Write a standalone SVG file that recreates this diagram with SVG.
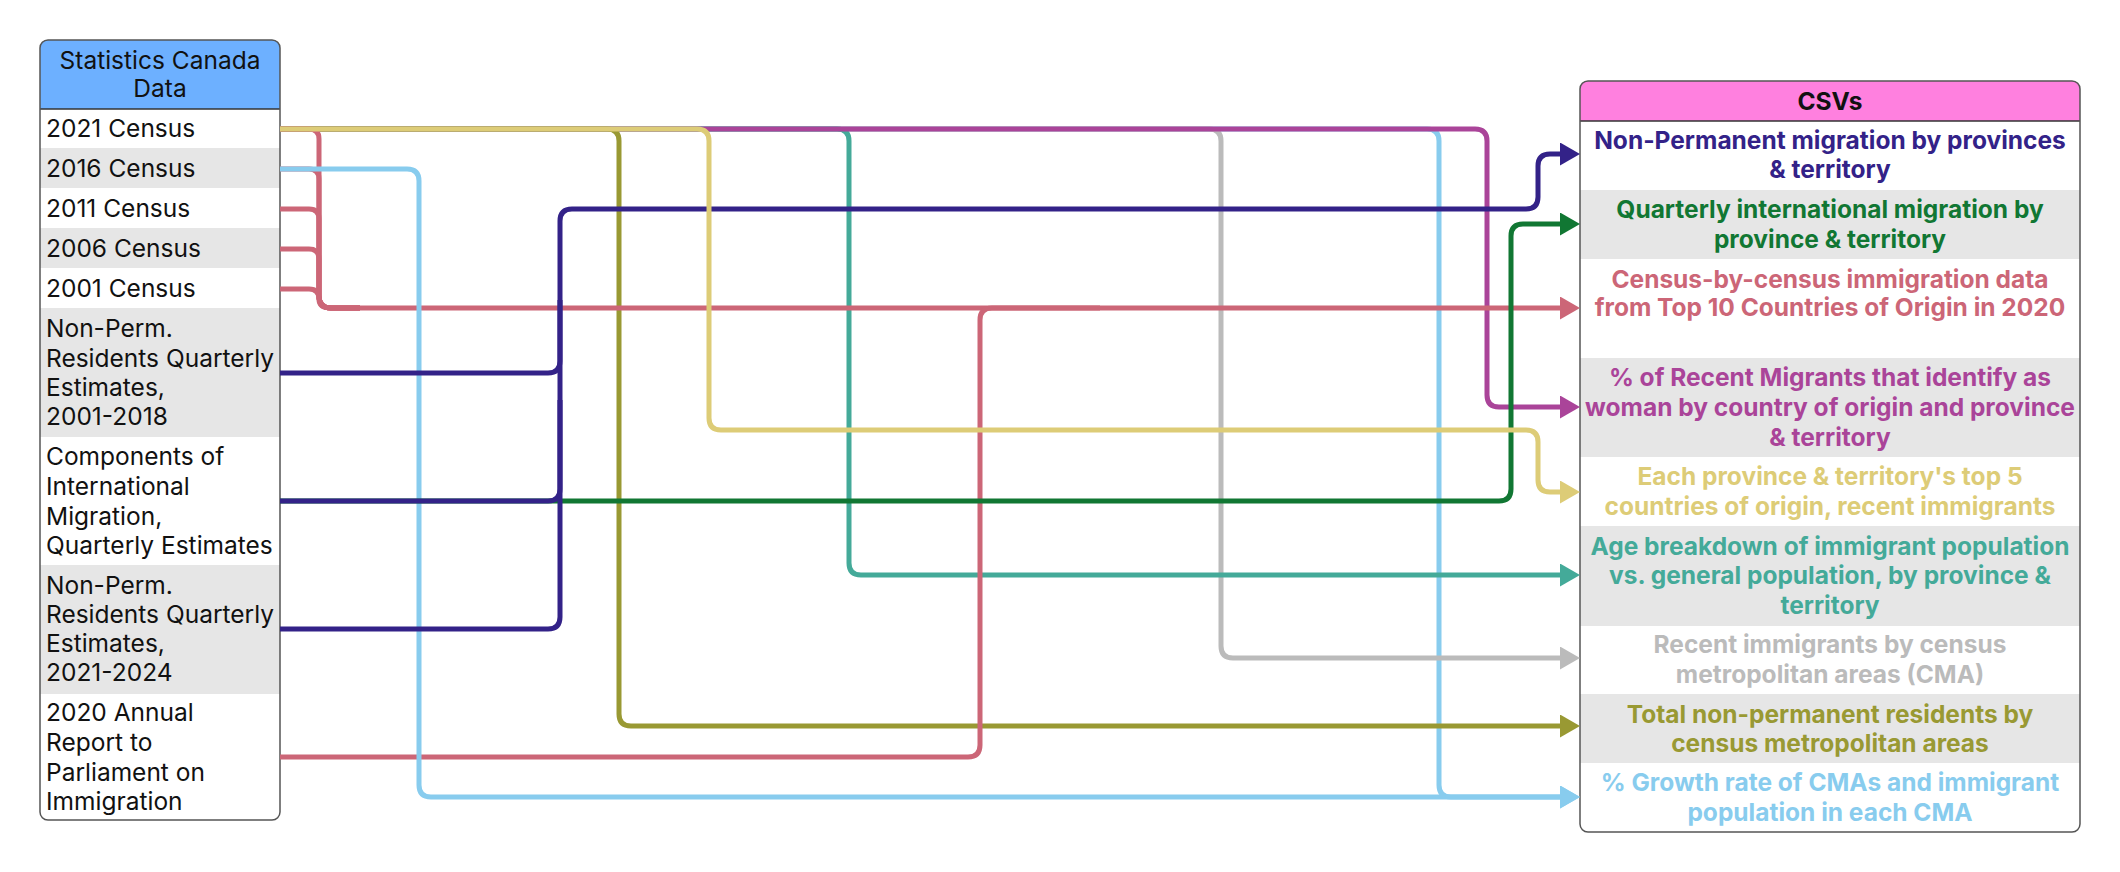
<svg xmlns="http://www.w3.org/2000/svg" width="2120" height="872" viewBox="0 0 2120 872">
<style>
  text { font-family: "Inter", "Liberation Sans", sans-serif; font-size: 24.5px; }
  .src { fill: #111111; }
  .hdr { fill: #111111; text-anchor: middle; }
  .out { font-weight: 700; text-anchor: middle; }
  .box { fill: none; stroke: #555555; stroke-width: 1.5; }
  .alt { fill: #E6E6E6; }
  .wht { fill: #FFFFFF; }
  .ln { fill: none; stroke-width: 5; stroke-linejoin: round; }
</style>
<defs>
  <marker id="a-navy" viewBox="0 0 20 23" refX="10" refY="11.5" markerWidth="20" markerHeight="23" markerUnits="userSpaceOnUse" orient="auto"><path d="M0,0 L20,11.5 L0,23 z" fill="#332288"/></marker>
  <marker id="a-green" viewBox="0 0 20 23" refX="10" refY="11.5" markerWidth="20" markerHeight="23" markerUnits="userSpaceOnUse" orient="auto"><path d="M0,0 L20,11.5 L0,23 z" fill="#117733"/></marker>
  <marker id="a-rose" viewBox="0 0 20 23" refX="10" refY="11.5" markerWidth="20" markerHeight="23" markerUnits="userSpaceOnUse" orient="auto"><path d="M0,0 L20,11.5 L0,23 z" fill="#CC6677"/></marker>
  <marker id="a-purple" viewBox="0 0 20 23" refX="10" refY="11.5" markerWidth="20" markerHeight="23" markerUnits="userSpaceOnUse" orient="auto"><path d="M0,0 L20,11.5 L0,23 z" fill="#AA4499"/></marker>
  <marker id="a-sand" viewBox="0 0 20 23" refX="10" refY="11.5" markerWidth="20" markerHeight="23" markerUnits="userSpaceOnUse" orient="auto"><path d="M0,0 L20,11.5 L0,23 z" fill="#DDCC77"/></marker>
  <marker id="a-teal" viewBox="0 0 20 23" refX="10" refY="11.5" markerWidth="20" markerHeight="23" markerUnits="userSpaceOnUse" orient="auto"><path d="M0,0 L20,11.5 L0,23 z" fill="#44AA99"/></marker>
  <marker id="a-grey" viewBox="0 0 20 23" refX="10" refY="11.5" markerWidth="20" markerHeight="23" markerUnits="userSpaceOnUse" orient="auto"><path d="M0,0 L20,11.5 L0,23 z" fill="#BBBBBB"/></marker>
  <marker id="a-olive" viewBox="0 0 20 23" refX="10" refY="11.5" markerWidth="20" markerHeight="23" markerUnits="userSpaceOnUse" orient="auto"><path d="M0,0 L20,11.5 L0,23 z" fill="#999933"/></marker>
  <marker id="a-cyan" viewBox="0 0 20 23" refX="10" refY="11.5" markerWidth="20" markerHeight="23" markerUnits="userSpaceOnUse" orient="auto"><path d="M0,0 L20,11.5 L0,23 z" fill="#88CCEE"/></marker>
</defs>
<rect width="2120" height="872" fill="#FFFFFF"/>

<g id="source-table">
  <path d="M48,40 H272 Q280,40 280,48 V109 H40 V48 Q40,40 48,40 z" fill="#6DB0FF"/>
  <text class="hdr" x="160" y="69">Statistics Canada</text>
  <text class="hdr" x="160" y="97">Data</text>
  <g id="src-2021"><rect class="wht" x="40" y="109" width="240" height="39"/><text class="src" x="46" y="137">2021 Census</text></g>
  <g id="src-2016"><rect class="alt" x="40" y="148" width="240" height="40"/><text class="src" x="46" y="177">2016 Census</text></g>
  <g id="src-2011"><rect class="wht" x="40" y="188" width="240" height="40"/><text class="src" x="46" y="217">2011 Census</text></g>
  <g id="src-2006"><rect class="alt" x="40" y="228" width="240" height="40"/><text class="src" x="46" y="257">2006 Census</text></g>
  <g id="src-2001"><rect class="wht" x="40" y="268" width="240" height="40"/><text class="src" x="46" y="297">2001 Census</text></g>
  <g id="src-npr-2001"><rect class="alt" x="40" y="308" width="240" height="129"/>
    <text class="src" x="46" y="337">Non-Perm.</text><text class="src" x="46" y="367">Residents Quarterly</text><text class="src" x="46" y="396">Estimates,</text><text class="src" x="46" y="425">2001-2018</text></g>
  <g id="src-components"><rect class="wht" x="40" y="437" width="240" height="128"/>
    <text class="src" x="46" y="465">Components of</text><text class="src" x="46" y="495">International</text><text class="src" x="46" y="525">Migration,</text><text class="src" x="46" y="554">Quarterly Estimates</text></g>
  <g id="src-npr-2021"><rect class="alt" x="40" y="565" width="240" height="129"/>
    <text class="src" x="46" y="594">Non-Perm.</text><text class="src" x="46" y="623">Residents Quarterly</text><text class="src" x="46" y="652">Estimates,</text><text class="src" x="46" y="681">2021-2024</text></g>
  <g id="src-annual"><path d="M40,694 H280 V812 Q280,820 272,820 H48 Q40,820 40,812 z" fill="#FFFFFF"/>
    <text class="src" x="46" y="721">2020 Annual</text><text class="src" x="46" y="751">Report to</text><text class="src" x="46" y="781">Parliament on</text><text class="src" x="46" y="810">Immigration</text></g>
  <line x1="40" y1="109" x2="280" y2="109" stroke="#333333" stroke-width="1.5"/>
  <rect class="box" x="40" y="40" width="240" height="780" rx="8"/>
</g>

<g id="csv-table">
  <path d="M1588,81 H2072 Q2080,81 2080,89 V121 H1580 V89 Q1580,81 1588,81 z" fill="#FF80DF"/>
  <text x="1830" y="110" text-anchor="middle" font-weight="700" fill="#111111">CSVs</text>
  <g id="csv-npm"><rect class="wht" x="1580" y="121" width="500" height="69"/>
    <text class="out" fill="#332288" x="1830" y="149">Non-Permanent migration by provinces</text><text class="out" fill="#332288" x="1830" y="178">&amp; territory</text></g>
  <g id="csv-quarterly"><rect class="alt" x="1580" y="190" width="500" height="69"/>
    <text class="out" fill="#117733" x="1830" y="218">Quarterly international migration by</text><text class="out" fill="#117733" x="1830" y="248">province &amp; territory</text></g>
  <g id="csv-census"><rect class="wht" x="1580" y="259" width="500" height="99"/>
    <text class="out" fill="#CC6677" x="1830" y="288">Census-by-census immigration data</text><text class="out" fill="#CC6677" x="1830" y="316">from Top 10 Countries of Origin in 2020</text></g>
  <g id="csv-women"><rect class="alt" x="1580" y="358" width="500" height="99"/>
    <text class="out" fill="#AA4499" x="1830" y="386">% of Recent Migrants that identify as</text><text class="out" fill="#AA4499" x="1830" y="416">woman by country of origin and province</text><text class="out" fill="#AA4499" x="1830" y="446">&amp; territory</text></g>
  <g id="csv-top5"><rect class="wht" x="1580" y="457" width="500" height="69"/>
    <text class="out" fill="#DDCC77" x="1830" y="485">Each province &amp; territory's top 5</text><text class="out" fill="#DDCC77" x="1830" y="515">countries of origin, recent immigrants</text></g>
  <g id="csv-age"><rect class="alt" x="1580" y="526" width="500" height="100"/>
    <text class="out" fill="#44AA99" x="1830" y="555">Age breakdown of immigrant population</text><text class="out" fill="#44AA99" x="1830" y="584">vs. general population, by province &amp;</text><text class="out" fill="#44AA99" x="1830" y="614">territory</text></g>
  <g id="csv-recent"><rect class="wht" x="1580" y="626" width="500" height="68"/>
    <text class="out" fill="#BBBBBB" x="1830" y="653">Recent immigrants by census</text><text class="out" fill="#BBBBBB" x="1830" y="683">metropolitan areas (CMA)</text></g>
  <g id="csv-npr-cma"><rect class="alt" x="1580" y="694" width="500" height="69"/>
    <text class="out" fill="#999933" x="1830" y="723">Total non-permanent residents by</text><text class="out" fill="#999933" x="1830" y="752">census metropolitan areas</text></g>
  <g id="csv-growth"><path d="M1580,763 H2080 V824 Q2080,832 2072,832 H1588 Q1580,832 1580,824 z" fill="#FFFFFF"/>
    <text class="out" fill="#88CCEE" x="1830" y="791">% Growth rate of CMAs and immigrant</text><text class="out" fill="#88CCEE" x="1830" y="821">population in each CMA</text></g>
  <line x1="1580" y1="121" x2="2080" y2="121" stroke="#333333" stroke-width="1.5"/>
  <rect class="box" x="1580" y="81" width="500" height="751" rx="8"/>
</g>

<g id="connectors">
  <path class="ln" stroke="#88CCEE" marker-end="url(#a-cyan)" d="M280,129 H1427 Q1439,129 1439,141 V785 Q1439,797 1451,797 H1570"/>
  <path class="ln" stroke="#BBBBBB" marker-end="url(#a-grey)" d="M280,129 H1209 Q1221,129 1221,141 V646 Q1221,658 1233,658 H1570"/>
  <path class="ln" stroke="#44AA99" marker-end="url(#a-teal)" d="M280,129 H837 Q849,129 849,141 V563 Q849,575 861,575 H1570"/>
  <path class="ln" stroke="#AA4499" marker-end="url(#a-purple)" d="M280,129 H1475 Q1487,129 1487,141 V395 Q1487,407 1499,407 H1570"/>
  <path class="ln" stroke="#999933" marker-end="url(#a-olive)" d="M280,129 H607 Q619,129 619,141 V714 Q619,726 631,726 H1570"/>
  <path class="ln" stroke="#CC6677" marker-end="url(#a-rose)" d="M280,129 H309 Q319,129 319,139 V296 Q319,308 331,308 H1570"/>
  <path class="ln" stroke="#CC6677" d="M280,169 H309 Q319,169 319,179 V296 Q319,308 331,308 H360"/>
  <path class="ln" stroke="#CC6677" d="M280,209 H309 Q319,209 319,219 V296 Q319,308 331,308 H360"/>
  <path class="ln" stroke="#CC6677" d="M280,249 H309 Q319,249 319,259 V296 Q319,308 331,308 H360"/>
  <path class="ln" stroke="#CC6677" d="M280,289 H309 Q319,289 319,299 Q319,308 331,308 H360"/>
  <path class="ln" stroke="#CC6677" d="M280,757 H968 Q980,757 980,745 V320 Q980,308 992,308 H1100"/>
  <path class="ln" stroke="#88CCEE" marker-end="url(#a-cyan)" d="M280,169 H407 Q419,169 419,181 V785 Q419,797 431,797 H1570"/>
  <path class="ln" stroke="#117733" marker-end="url(#a-green)" d="M280,501 H1499 Q1511,501 1511,489 V236 Q1511,224 1523,224 H1570"/>
  <path class="ln" stroke="#332288" marker-end="url(#a-navy)" d="M280,373 H548 Q560,373 560,361 V221 Q560,209 572,209 H1526 Q1538,209 1538,197 V166 Q1538,154 1550,154 H1570"/>
  <path class="ln" stroke="#332288" d="M280,501 H548 Q560,501 560,489 V300"/>
  <path class="ln" stroke="#332288" d="M280,629 H548 Q560,629 560,617 V400"/>
  <path class="ln" stroke="#DDCC77" marker-end="url(#a-sand)" d="M280,129 H697 Q709,129 709,141 V418 Q709,430 721,430 H1526 Q1538,430 1538,442 V480 Q1538,492 1550,492 H1570"/>
</g>
</svg>
